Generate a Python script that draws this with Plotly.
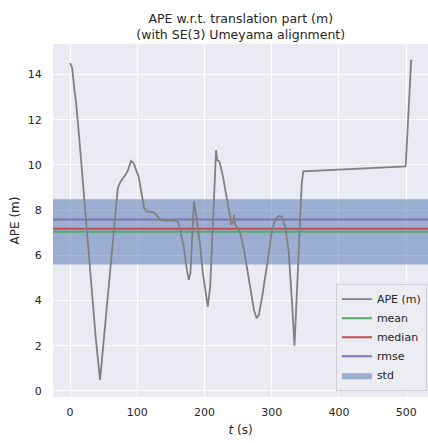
import plotly.graph_objects as go

t = [0, 3, 7.4, 8.8, 13.7, 18.6, 23.5, 28.4, 33.3, 38.2, 44.6, 48, 52.9, 57.8,
     62.8, 67.6, 71, 75, 82.4, 86.3, 90.7, 94.6, 98.5, 102, 105.9, 110.3, 114.2,
     119, 125, 129, 134.8, 141, 153.4, 160.7, 165.7, 169, 173, 176.5, 179, 181.9,
     184.3, 186.8, 190.2, 193.6, 197.5, 201.5, 204.9, 208.4, 211.3, 214.3, 217.2,
     218.7, 222, 227, 231.9, 236.8, 240.2, 242.6, 244.1, 245.6, 249, 254, 258.8,
     263.7, 268.7, 273.5, 277.5, 280.9, 285.7, 290.7, 295.6, 300.4, 305.4, 310.3,
     315.2, 320, 325, 329.9, 333.8, 335.8, 339.7, 342.2, 344.6, 347, 428, 499,
     500.5, 504, 507.4, 508]
ape = [14.5, 14.3, 13.1, 12.8, 11.18, 9.41, 7.49, 6.02, 4.25, 2.33, 0.49, 1.59,
       3.22, 4.84, 6.6, 8.23, 8.97, 9.26, 9.56, 9.78, 10.18, 10.07, 9.78, 9.48,
       8.82, 8.08, 7.93, 7.93, 7.89, 7.74, 7.57, 7.54, 7.54, 7.49, 6.9, 6.39, 5.5,
       4.91, 5.2, 6.98, 8.38, 7.93, 7.27, 6.39, 5.21, 4.32, 3.73, 4.61, 6.68, 8.89,
       10.66, 10.22, 10.15, 9.55, 8.75, 7.79, 7.35, 7.49, 7.79, 7.35, 7.24, 6.9,
       6.24, 5.35, 4.47, 3.58, 3.22, 3.36, 4.17, 5.06, 6.09, 7.12, 7.6, 7.74, 7.71,
       7.27, 6.2, 4.03, 2.0, 3.29, 6.24, 8.0, 9.19, 9.71, 9.81, 9.93, 10.66, 12.58,
       14.65, 14.57]

stat_mean = 7.04
stat_median = 7.18
stat_rmse = 7.58
stat_std = 1.445

x_range = [-25.4, 532.4]
y_range = [-0.27, 15.35]
x_ticks = [0, 100, 200, 300, 400, 500]
y_ticks = [0, 2, 4, 6, 8, 10, 12, 14]

FONT = "DejaVu Sans"
TXT = "#262626"

fig = go.Figure()
# std band (axhspan across the full axes width)
lo, hi = stat_mean - stat_std, stat_mean + stat_std
fig.add_trace(go.Scatter(x=[x_range[0], x_range[1], x_range[1], x_range[0], x_range[0]],
                         y=[lo, lo, hi, hi, lo], mode="lines", fill="toself",
                         fillcolor="rgba(76,114,176,0.5)", line=dict(width=0),
                         name="std", legendrank=5, hoverinfo="skip"))
for val, col, nm, rk in [(stat_mean, "#55A868", "mean", 2),
                         (stat_median, "#C44E52", "median", 3),
                         (stat_rmse, "#8172B2", "rmse", 4)]:
    fig.add_trace(go.Scatter(x=x_range, y=[val, val], mode="lines", name=nm,
                             line=dict(color=col, width=2), legendrank=rk))
fig.add_trace(go.Scatter(x=t, y=ape, mode="lines", name="APE (m)",
                         line=dict(color="#808080", width=1.8), legendrank=1))

fig.update_layout(
    width=428, height=443,
    margin=dict(l=53, r=0, t=44, b=46),
    paper_bgcolor="white", plot_bgcolor="#EAEAF2",
    font=dict(family=FONT, color=TXT, size=11),
    title=dict(text="APE w.r.t. translation part (m)<br>(with SE(3) Umeyama alignment)",
               x=0.5625, xanchor="center", y=0.949, yanchor="middle", yref="container",
               font=dict(size=12.5, color=TXT)),
    xaxis=dict(range=x_range, tickvals=x_ticks, showgrid=True,
               gridcolor="white", gridwidth=1.2, zeroline=False, showline=False,
               ticks="outside", ticklen=5, tickcolor="rgba(0,0,0,0)",
               title=dict(text="<i>t</i> (s)", standoff=7, font=dict(size=12)),
               tickfont=dict(size=11)),
    yaxis=dict(range=y_range, tickvals=y_ticks, showgrid=True,
               gridcolor="white", gridwidth=1.2, zeroline=False, showline=False,
               ticks="outside", ticklen=8, tickcolor="rgba(0,0,0,0)",
               title=dict(text="APE (m)", standoff=5, font=dict(size=12)),
               tickfont=dict(size=11)),
    legend=dict(x=0.997, xanchor="right", y=0.018, yanchor="bottom",
                bgcolor="rgba(236,236,243,0.9)", bordercolor="#D0D0D8", borderwidth=1,
                font=dict(size=11, color=TXT), tracegroupgap=0, itemwidth=30),
    showlegend=True,
)

fig.write_html("out.html")
